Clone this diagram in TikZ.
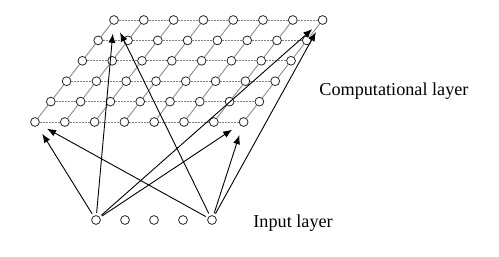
\documentclass[tikz,border=0pt]{standalone}
\usepackage{fontspec}
\setmainfont{Liberation Serif}
\usetikzlibrary{arrows.meta}

\begin{document}
\begin{tikzpicture}[x=0.5pt, y=-0.5pt,
    neuron/.style={circle, draw=black!85, fill=white, minimum size=4.4pt, inner sep=0pt, line width=0.4pt},
    link/.style={black!45, line width=0.45pt},
    rowlink/.style={black!50, line width=0.45pt, dash pattern=on 1pt off 0.5pt},
    arrow/.style={-{Latex[length=4.5pt, width=3.5pt]}, line width=0.45pt, shorten >=4.5pt, shorten <=1.2pt},
    label/.style={font=\fontsize{9.1}{11}\selectfont, anchor=base west, inner sep=0pt}
]
\useasboundingbox (0,0) rectangle (499,257);

% computational layer
\foreach \r in {0,...,5}
  \foreach \c in {0,...,7}
    \node[neuron] (n-\r-\c) at ({114+29.8*\c-15.8*\r}, {20+20.4*\r}) {};

\foreach \r in {0,...,5}{
  \foreach \c in {0,...,6}{
    \pgfmathtruncatemacro{\cc}{\c+1}
    \draw[rowlink] (n-\r-\c) -- (n-\r-\cc);
  }
}
\foreach \c in {0,...,7}{
  \foreach \r in {0,...,4}{
    \pgfmathtruncatemacro{\rr}{\r+1}
    \draw[link] (n-\r-\c) -- (n-\rr-\c);
  }
}

% input layer
\foreach \i in {1,...,5}
  \node[neuron] (in\i) at ({96+29*(\i-1)}, 220) {};

% weights to the corners
\foreach \s in {in1,in5}
  \foreach \t in {n-0-0,n-0-7,n-5-0,n-5-7}
    \draw[arrow] (\s) -- (\t);

\node[label] (complabel) at (319,95) {Computational layer};
\node[label] (inlabel) at (253,227) {Input layer};

\end{tikzpicture}
\end{document}
